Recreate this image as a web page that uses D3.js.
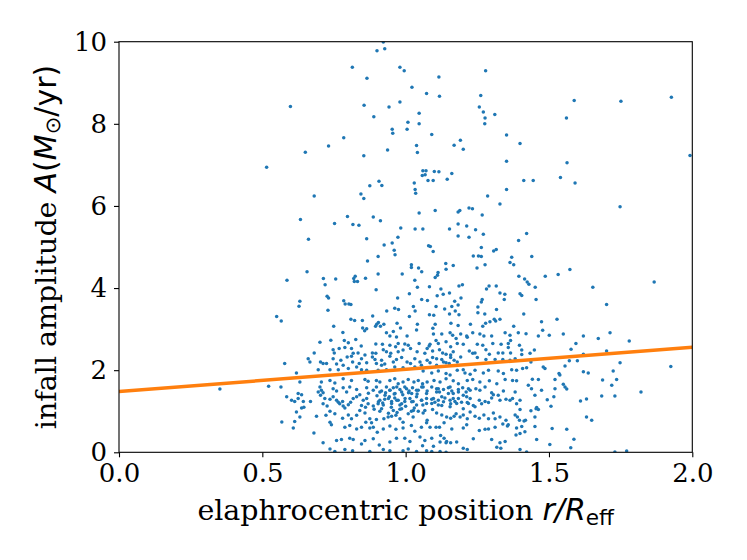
<!DOCTYPE html>
<html>
<head>
<meta charset="utf-8">
<script src="https://cdn.jsdelivr.net/npm/d3@7/dist/d3.min.js"></script>
<style>
  html, body { margin: 0; padding: 0; background: #fff; }
  svg { display: block; }
</style>
</head>
<body>
<svg id="chart" width="747" height="560"></svg>
<script>
// ---------------- data ----------------
const xTicks = [0.0, 0.5, 1.0, 1.5, 2.0];
const xTickLabels = ["0.0", "0.5", "1.0", "1.5", "2.0"];
const yTicks = [0, 2, 4, 6, 8, 10];
const yTickLabels = ["0", "2", "4", "6", "8", "10"];

// fitted trend line: [r/Reff, A]
const fitX = [0.0, 2.0];
const fitY = [1.48, 2.56];

// scatter sample: sparse upper part (A > 3)
const upperPoints = [
[0.922,9.99],[0.927,9.83],[0.900,9.78],[0.814,9.38],[0.980,9.38],[0.995,9.29],[1.279,9.29],[1.116,9.14],[0.865,9.11],[1.022,8.89],[1.073,8.74],[1.118,8.67],[1.262,8.69],[1.588,8.57],[1.751,8.55],[1.927,8.65],[0.598,8.42],[0.855,8.45],[0.980,8.53],[0.942,8.41],[1.257,8.41],[1.271,8.29],[1.311,8.23],[1.277,8.14],[1.047,8.26],[0.889,8.17],[1.561,8.14],[1.276,8.0],[1.008,8.04],[1.047,8.0],[1.005,7.87],[0.953,7.87],[0.955,7.77],[1.091,7.74],[0.784,7.66],[1.352,7.73],[1.191,7.60],[1.399,7.52],[1.169,7.48],[0.731,7.46],[1.038,7.47],[1.201,7.38],[0.937,7.36],[1.041,7.30],[0.650,7.31],[0.854,7.22],[1.992,7.23],[1.563,7.05],[1.352,7.09],[0.515,6.94],[1.060,6.86],[1.071,6.86],[1.100,6.84],[1.116,6.83],[1.161,6.79],[1.068,6.76],[1.058,6.74],[1.145,6.65],[1.078,6.62],[1.096,6.62],[1.030,6.56],[1.540,6.69],[1.412,6.62],[1.445,6.62],[1.591,6.56],[0.907,6.60],[0.917,6.50],[0.875,6.49],[1.033,6.40],[1.035,6.31],[1.352,6.40],[0.844,6.29],[0.854,6.18],[0.681,6.24],[1.286,6.24],[1.329,6.05],[1.748,5.98],[1.221,5.95],[1.233,5.93],[1.189,5.89],[1.183,5.85],[1.103,5.89],[1.047,5.83],[1.267,5.78],[0.797,5.74],[0.887,5.73],[0.912,5.64],[0.633,5.67],[0.752,5.57],[0.816,5.55],[0.837,5.53],[1.183,5.56],[1.060,5.44],[1.033,5.44],[1.153,5.44],[0.983,5.46],[1.213,5.51],[1.244,5.42],[1.422,5.33],[1.183,5.27],[1.221,5.24],[1.271,5.31],[0.973,5.24],[0.661,5.19],[0.864,5.20],[1.394,5.16],[0.925,5.05],[0.953,5.10],[1.080,5.03],[1.086,5.01],[1.264,4.99],[0.960,4.92],[1.316,4.94],[1.307,4.90],[1.096,4.89],[0.963,4.81],[0.904,4.77],[1.440,4.77],[1.236,4.78],[1.254,4.78],[1.264,4.77],[1.370,4.75],[1.364,4.62],[1.377,4.57],[0.867,4.66],[1.140,4.60],[1.020,4.57],[1.020,4.50],[1.166,4.55],[1.249,4.49],[1.277,4.57],[1.045,4.49],[1.141,4.46],[1.573,4.45],[1.056,4.40],[1.113,4.38],[0.656,4.40],[0.904,4.34],[0.988,4.34],[1.111,4.31],[1.487,4.29],[1.532,4.33],[0.824,4.29],[1.395,4.29],[0.860,4.24],[0.819,4.23],[0.713,4.23],[0.756,4.22],[1.415,4.22],[0.586,4.19],[1.032,4.19],[1.103,4.26],[0.821,4.16],[0.832,4.16],[1.424,4.15],[1.867,4.15],[0.719,4.08],[1.430,4.09],[1.198,4.08],[1.186,4.05],[1.291,4.05],[1.316,4.05],[1.083,4.03],[1.653,4.02],[1.452,4.02],[1.041,4.02],[0.897,3.96],[1.282,3.98],[1.123,3.98],[1.013,3.86],[1.399,3.86],[1.405,3.82],[1.329,3.88],[1.346,3.85],[1.131,3.85],[1.110,3.81],[1.153,3.88],[0.726,3.80],[0.731,3.76],[0.972,3.76],[1.193,3.76],[1.267,3.72],[1.455,3.72],[0.784,3.69],[1.056,3.72],[0.631,3.68],[1.076,3.70],[1.344,3.72],[1.171,3.68],[1.264,3.66],[0.789,3.61],[0.802,3.61],[0.809,3.60],[0.628,3.56],[1.701,3.60],[1.183,3.59],[1.106,3.55],[1.161,3.55],[1.027,3.55],[1.252,3.54],[1.136,3.49],[1.317,3.48],[0.962,3.51],[0.975,3.48],[0.729,3.46],[1.033,3.44],[1.173,3.44],[0.934,3.44],[1.153,3.37],[1.098,3.34],[1.412,3.37],[1.276,3.37],[1.186,3.35],[1.252,3.40],[1.083,3.35],[0.885,3.32],[1.013,3.31],[0.550,3.31],[0.566,3.20],[1.528,3.24],[1.309,3.24],[1.314,3.20],[1.329,3.24],[0.809,3.24],[0.822,3.21],[0.849,3.21],[1.294,3.18],[1.279,3.14],[1.226,3.12],[0.905,3.16],[0.899,3.12],[0.924,3.12],[0.970,3.14],[1.041,3.12],[1.103,3.12],[1.158,3.14],[0.895,3.07],[0.912,3.07],[0.982,3.03],[0.850,3.03],[0.864,3.01],[1.269,3.07],[1.377,3.07],[0.749,3.07],[1.183,3.09],[1.095,3.02]
];

// scatter sample: middle band (1.6 < A < 3), left half
const midLeftPoints = [
[0.781,2.92],[0.857,2.96],[0.933,2.91],[0.945,2.83],[0.968,2.81],[0.957,2.94],[1.005,2.83],[1.038,2.98],[0.701,2.68],[0.739,2.73],[0.786,2.72],[0.800,2.67],[0.826,2.75],[0.845,2.59],[0.896,2.64],[0.919,2.63],[0.945,2.61],[0.965,2.57],[0.974,2.65],[0.997,2.64],[1.009,2.61],[1.047,2.65],[1.082,2.59],[0.681,2.42],[0.747,2.50],[0.751,2.42],[0.768,2.53],[0.788,2.55],[0.811,2.53],[0.817,2.41],[0.834,2.42],[0.858,2.37],[0.884,2.42],[0.896,2.41],[0.922,2.50],[0.933,2.45],[0.948,2.41],[0.974,2.45],[0.991,2.49],[1.017,2.53],[1.040,2.45],[1.067,2.41],[1.075,2.53],[0.660,2.28],[0.666,2.20],[0.703,2.20],[0.712,2.16],[0.724,2.16],[0.747,2.28],[0.774,2.24],[0.782,2.12],[0.796,2.32],[0.811,2.34],[0.815,2.20],[0.838,2.16],[0.846,2.28],[0.864,2.18],[0.884,2.32],[0.893,2.26],[0.898,2.16],[0.916,2.24],[0.927,2.15],[0.945,2.34],[0.957,2.20],[0.968,2.26],[0.986,2.31],[1.005,2.20],[1.017,2.16],[1.032,2.28],[1.050,2.20],[1.075,2.24],[0.619,1.93],[0.695,2.01],[0.736,2.01],[0.759,2.15],[0.765,2.01],[0.800,2.04],[0.829,2.08],[0.846,2.01],[0.864,2.00],[0.904,2.00],[0.916,2.12],[0.933,2.01],[0.962,2.08],[0.991,2.06],[1.032,2.08],[1.055,2.12],[1.061,1.98],[0.631,1.71],[0.706,1.71],[0.736,1.75],[0.753,1.69],[0.782,1.79],[0.811,1.75],[0.858,1.77],[0.869,1.73],[0.898,1.75],[0.910,1.71],[0.945,1.75],[0.962,1.79],[0.974,1.67],[0.991,1.71],[1.009,1.77],[1.029,1.71],[1.044,1.75],[1.059,1.67],[1.075,1.71]
];

// scatter sample: middle band (1.6 < A < 3), centre-right
const midRightPoints = [
[1.097,2.88],[1.126,2.88],[1.155,2.91],[1.164,2.85],[1.176,2.77],[1.192,2.88],[1.213,2.83],[1.215,2.80],[1.234,2.91],[1.259,2.88],[1.273,2.83],[1.300,2.83],[1.347,2.91],[1.364,2.85],[1.393,2.91],[1.085,2.63],[1.106,2.72],[1.114,2.65],[1.141,2.69],[1.157,2.57],[1.180,2.65],[1.201,2.63],[1.250,2.63],[1.269,2.61],[1.304,2.65],[1.333,2.63],[1.358,2.65],[1.366,2.72],[1.358,2.55],[1.397,2.61],[1.094,2.47],[1.118,2.50],[1.129,2.42],[1.141,2.39],[1.157,2.37],[1.166,2.45],[1.222,2.47],[1.234,2.41],[1.242,2.42],[1.280,2.50],[1.292,2.39],[1.323,2.42],[1.339,2.42],[1.366,2.42],[1.094,2.31],[1.108,2.28],[1.126,2.26],[1.141,2.18],[1.157,2.31],[1.169,2.24],[1.180,2.20],[1.192,2.32],[1.250,2.31],[1.280,2.26],[1.312,2.26],[1.339,2.26],[1.364,2.24],[1.382,2.28],[1.085,2.18],[1.108,2.12],[1.132,2.20],[1.152,2.16],[1.091,1.93],[1.114,1.98],[1.141,1.92],[1.155,1.88],[1.180,2.00],[1.201,2.01],[1.207,1.93],[1.225,1.90],[1.242,2.00],[1.271,1.93],[1.289,2.00],[1.323,1.98],[1.341,1.92],[1.370,2.01],[1.387,2.00],[1.099,1.75],[1.120,1.71],[1.141,1.79],[1.166,1.74],[1.184,1.67],[1.215,1.75],[1.234,1.77],[1.259,1.71],[1.292,1.74],[1.318,1.67],[1.347,1.77],[1.373,1.75],[1.387,1.74]
];

// scatter sample: lower band (A < 1.6), left half
const lowLeftPoints = [
[0.637,1.40],[0.625,1.31],[0.643,1.24],[0.613,1.24],[0.645,1.10],[0.668,1.24],[0.637,1.08],[0.619,0.98],[0.631,0.86],[0.613,0.75],[0.608,0.59],[0.695,1.47],[0.703,1.39],[0.712,1.45],[0.718,1.31],[0.712,1.18],[0.726,1.13],[0.736,1.29],[0.747,1.35],[0.759,1.27],[0.765,1.22],[0.770,1.18],[0.780,1.24],[0.782,1.13],[0.788,1.08],[0.800,1.16],[0.808,1.22],[0.817,1.31],[0.829,1.35],[0.840,1.40],[0.852,1.27],[0.864,1.31],[0.846,1.14],[0.869,1.18],[0.887,1.13],[0.904,1.18],[0.910,1.27],[0.927,1.29],[0.943,1.35],[0.951,1.24],[0.962,1.32],[0.974,1.27],[0.986,1.18],[0.997,1.24],[1.015,1.31],[1.026,1.24],[1.038,1.35],[1.055,1.27],[1.073,1.31],[0.689,0.88],[0.722,0.90],[0.736,1.00],[0.753,0.94],[0.780,0.83],[0.800,0.91],[0.811,0.82],[0.829,0.90],[0.840,1.02],[0.858,0.96],[0.875,0.82],[0.881,0.72],[0.898,0.80],[0.910,1.00],[0.924,0.82],[0.939,0.86],[0.951,0.88],[0.966,0.90],[0.980,0.82],[0.991,0.73],[1.009,0.94],[1.026,0.86],[1.044,1.00],[1.061,0.96],[1.075,0.78],[0.736,0.73],[0.741,0.67],[0.788,0.61],[0.805,0.65],[0.829,0.57],[0.846,0.61],[0.861,0.73],[0.875,0.59],[0.887,0.61],[0.901,0.49],[0.922,0.57],[0.945,0.64],[0.966,0.56],[0.991,0.59],[1.020,0.65],[1.032,0.51],[1.055,0.61],[1.073,0.72],[0.680,0.47],[0.776,0.31],[0.805,0.34],[0.817,0.31],[0.846,0.20],[0.858,0.29],[0.887,0.33],[0.908,0.18],[0.945,0.25],[0.968,0.34],[0.997,0.34],[1.015,0.26],[1.050,0.37],[1.067,0.29],[1.059,0.16],[0.712,0.23],[0.759,0.29],[0.736,0.08],[0.753,0.02],[0.788,0.07],[0.815,0.04],[0.875,0.02],[0.922,0.07],[0.945,0.04],[0.991,0.04],[1.009,0.08],[1.038,0.02],[1.073,0.04],[0.701,1.59],[0.706,1.51],[0.747,1.55],[0.759,1.49],[0.782,1.57],[0.794,1.47],[0.805,1.59],[0.829,1.53],[0.864,1.57],[0.887,1.51],[0.898,1.59],[0.916,1.49],[0.933,1.59],[0.945,1.51],[0.957,1.57],[0.980,1.53],[0.997,1.59],[1.012,1.49],[1.024,1.57],[1.044,1.51],[1.061,1.59],[1.075,1.49],[0.625,1.43],[0.602,1.27],[0.87,1.44],[0.90,1.38],[0.93,1.45],[0.96,1.42],[0.99,1.40],[1.01,1.45],[1.04,1.42],[0.92,1.20],[0.95,1.10],[0.98,1.05],[1.00,1.12],[1.03,1.08],[0.89,1.05],[0.86,1.10],[0.97,0.97],[1.06,1.15],[1.02,1.00],[0.94,0.95]
];

// scatter sample: lower band (A < 1.6), centre-right
const lowRightPoints = [
[1.091,1.59],[1.108,1.55],[1.118,1.47],[1.132,1.53],[1.149,1.57],[1.161,1.49],[1.166,1.43],[1.184,1.53],[1.199,1.57],[1.211,1.47],[1.225,1.51],[1.245,1.55],[1.259,1.51],[1.277,1.59],[1.300,1.45],[1.306,1.40],[1.323,1.39],[1.341,1.49],[1.382,1.47],[1.091,1.29],[1.102,1.22],[1.114,1.27],[1.126,1.14],[1.137,1.32],[1.155,1.27],[1.157,1.18],[1.172,1.24],[1.184,1.31],[1.195,1.22],[1.213,1.35],[1.215,1.21],[1.236,1.14],[1.257,1.27],[1.265,1.18],[1.277,1.24],[1.289,1.21],[1.300,1.32],[1.329,1.27],[1.350,1.29],[1.364,1.27],[1.373,1.31],[1.387,1.18],[1.094,1.04],[1.108,0.96],[1.126,0.91],[1.143,0.86],[1.157,0.83],[1.169,0.88],[1.176,0.94],[1.190,0.86],[1.201,0.91],[1.215,0.82],[1.225,0.98],[1.242,0.88],[1.257,0.83],[1.273,0.91],[1.289,0.82],[1.306,0.96],[1.312,0.82],[1.329,0.86],[1.350,0.78],[1.358,0.67],[1.382,0.91],[1.390,0.86],[1.397,0.78],[1.085,0.61],[1.106,0.61],[1.118,0.61],[1.134,0.72],[1.161,0.57],[1.201,0.59],[1.213,0.67],[1.257,0.53],[1.277,0.56],[1.289,0.57],[1.312,0.61],[1.339,0.69],[1.355,0.64],[1.387,0.59],[1.385,0.42],[1.091,0.34],[1.122,0.41],[1.134,0.34],[1.143,0.26],[1.120,0.25],[1.141,0.23],[1.157,0.23],[1.178,0.25],[1.236,0.33],[1.300,0.31],[1.329,0.23],[1.347,0.26],[1.201,0.10],[1.215,0.07],[1.318,0.12],[1.332,0.10],[1.097,0.15],[1.120,0.02],[1.141,0.00],[1.091,0.02]
];

// scatter sample: densest core (0.9 < r < 1.25, 1 < A < 1.6), extra dots
const corePoints = [
[0.910,1.47],[0.928,1.39],[0.945,1.51],[0.963,1.43],[0.969,1.59],[0.986,1.47],[1.003,1.55],[1.021,1.43],[1.038,1.51],[1.056,1.59],[1.073,1.43],[0.905,1.23],[0.922,1.15],[0.940,1.31],[0.951,1.19],[0.969,1.27],[0.980,1.15],[0.998,1.31],[1.021,1.23],[1.038,1.15],[1.056,1.27],[1.073,1.19],[0.916,1.06],[0.957,1.02],[0.986,1.06],[1.027,1.02],[1.067,1.02],[1.114,1.55],[1.155,1.59],[1.108,1.47],[1.149,1.43],[1.184,1.47],[1.201,1.39],[1.097,1.31],[1.126,1.35],[1.166,1.31],[1.091,1.19],[1.114,1.15],[1.132,1.23],[1.155,1.11],[1.178,1.19],[1.201,1.06],[1.219,1.55],[1.225,1.31],[1.219,1.19],[1.242,1.11]
];

// scatter sample: right side (r > 1.4, A < 3.2)
const rightPoints = [
[1.474,3.18],[1.478,2.97],[1.420,2.89],[1.463,2.83],[1.501,2.85],[1.550,2.88],[1.620,2.83],[1.672,2.77],[1.713,2.91],[1.780,2.71],[1.594,2.65],[1.577,2.51],[1.620,2.39],[1.701,2.47],[1.405,2.49],[1.405,2.38],[1.434,2.41],[1.449,2.49],[1.571,2.23],[1.599,2.23],[1.748,2.18],[1.437,2.20],[1.408,2.04],[1.422,2.06],[1.480,2.08],[1.486,2.04],[1.556,2.10],[1.535,1.92],[1.538,1.88],[1.620,1.96],[1.637,1.93],[1.724,1.98],[1.521,1.77],[1.442,1.78],[1.463,1.77],[1.687,1.76],[1.736,1.77],[1.428,1.63],[1.550,1.66],[1.556,1.59],[1.562,1.54],[1.521,1.55],[1.439,1.55],[1.474,1.51],[1.719,1.63],[1.821,1.47],[1.451,1.39],[1.517,1.35],[1.494,1.28],[1.610,1.25],[1.631,1.30],[1.684,1.37],[1.730,1.37],[1.399,1.27],[1.507,1.12],[1.457,1.09],[1.463,1.04],[1.455,1.06],[1.437,1.01],[1.399,1.04],[1.451,0.86],[1.631,0.86],[1.649,0.78],[1.418,0.78],[1.413,0.76],[1.405,0.63],[1.451,0.63],[1.511,0.58],[1.562,0.56],[1.416,0.50],[1.399,0.46],[1.587,0.32],[1.457,0.31],[1.503,0.19],[1.576,0.11],[1.399,0.07],[1.422,0.01],[1.730,0.01],[1.771,0.03],[1.925,2.09]
];

// scatter sample: left outskirts (r < 0.6, A < 3)
const leftPoints = [
[0.352,1.54],[0.522,1.61],[0.565,1.59],[0.578,2.16],[0.568,0.74],[0.585,1.35]
];

// ---------------- drawing ----------------
const plot = { left: 119, top: 41.7, right: 692.3, bottom: 452.3 };
const serif = "'DejaVu Serif', serif";
const sans = "'DejaVu Sans', sans-serif";
const tickFs = 26;
const labelFs = 28.5;
const mathFs = 30;

const svg = d3.select("#chart");
const x = d3.scaleLinear().domain([0, 2]).range([plot.left, plot.right]);
const y = d3.scaleLinear().domain([0, 10]).range([plot.bottom, plot.top]);

svg.append("defs").append("clipPath").attr("id", "clip")
  .append("rect")
  .attr("x", plot.left).attr("y", plot.top)
  .attr("width", plot.right - plot.left).attr("height", plot.bottom - plot.top);

const allPoints = [].concat(upperPoints, midLeftPoints, midRightPoints, lowLeftPoints,
                            lowRightPoints, corePoints, rightPoints, leftPoints);

const g = svg.append("g").attr("clip-path", "url(#clip)");
g.selectAll("circle.pt").data(allPoints).enter().append("circle")
  .attr("class", "pt")
  .attr("cx", d => x(d[0]))
  .attr("cy", d => y(d[1]))
  .attr("r", 1.75)
  .attr("fill", "#1f77b4");

const fitLine = d3.line().x(d => x(d[0])).y(d => y(d[1]));
g.append("path")
  .datum(fitX.map((v, i) => [v, fitY[i]]))
  .attr("d", fitLine)
  .attr("fill", "none")
  .attr("stroke", "#ff7f0e")
  .attr("stroke-width", 3.5);

// axes
const xAxis = d3.axisBottom(x).tickValues(xTicks).tickFormat((d, i) => xTickLabels[i]).tickSize(5).tickPadding(6);
const yAxis = d3.axisLeft(y).tickValues(yTicks).tickFormat((d, i) => yTickLabels[i]).tickSize(5).tickPadding(7);

const gx = svg.append("g").attr("transform", `translate(0,${plot.bottom})`).call(xAxis);
const gy = svg.append("g").attr("transform", `translate(${plot.left},0)`).call(yAxis);
[gx, gy].forEach(a => {
  a.select(".domain").remove();
  a.selectAll(".tick line").attr("stroke", "#000").attr("stroke-width", 1.1);
  a.selectAll(".tick text").attr("fill", "#000").style("font-family", serif).style("font-size", tickFs + "px");
});

// frame
svg.append("rect")
  .attr("x", plot.left).attr("y", plot.top)
  .attr("width", plot.right - plot.left).attr("height", plot.bottom - plot.top)
  .attr("fill", "none").attr("stroke", "#000").attr("stroke-width", 1.1);

// x label
const xl = svg.append("text")
  .attr("x", (plot.left + plot.right) / 2).attr("y", 520)
  .attr("text-anchor", "middle")
  .style("font-size", labelFs + "px").attr("fill", "#000");
xl.append("tspan").style("font-family", serif).text("elaphrocentric position ");
xl.append("tspan").style("font-family", sans).style("font-size", mathFs + "px").style("font-style", "italic").text("r/R");
xl.append("tspan").style("font-family", sans).style("font-size", (mathFs * 0.72) + "px").attr("dy", 5).text("eff");

// y label
const yl = svg.append("text")
  .attr("transform", `translate(56,${(plot.top + plot.bottom) / 2}) rotate(-90)`)
  .attr("text-anchor", "middle")
  .style("font-size", labelFs + "px").attr("fill", "#000");
yl.append("tspan").style("font-family", serif).text("infall amplitude ");
yl.append("tspan").style("font-family", sans).style("font-size", mathFs + "px").style("font-style", "italic").text("A");
yl.append("tspan").style("font-family", sans).style("font-size", mathFs + "px").text("(");
yl.append("tspan").style("font-family", sans).style("font-size", mathFs + "px").style("font-style", "italic").text("M");
yl.append("tspan").style("font-family", sans).style("font-size", (mathFs * 0.7) + "px").attr("dy", 4).text("⊙");
yl.append("tspan").style("font-family", sans).style("font-size", mathFs + "px").attr("dy", -4).text("/yr)");
</script>
</body>
</html>
